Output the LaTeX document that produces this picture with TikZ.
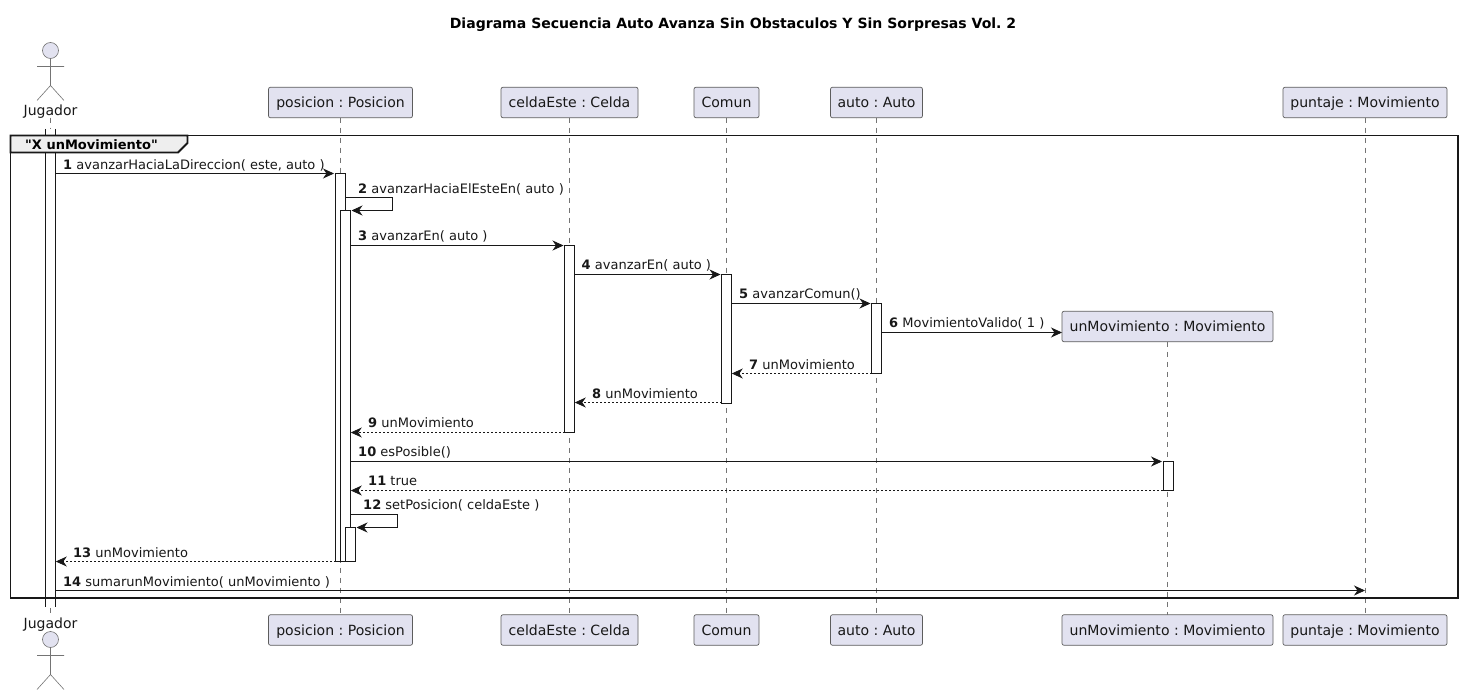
\documentclass[tikz,border=0pt]{standalone}
\usepackage{fontspec}
\setmainfont{DejaVu Sans}[Ligatures=TeXOff]
\usetikzlibrary{arrows.meta,calc}
\definecolor{partfill}{HTML}{E2E2F0}
\definecolor{ink}{HTML}{181818}
\definecolor{tabfill}{HTML}{EEEEEE}
\tikzset{
  part/.style={draw=ink!70,line width=0.7pt,fill=partfill,rounded corners=2pt,inner sep=0pt,outer sep=0pt,font=\fontsize{14.05}{16}\selectfont,text=ink,minimum height=30.5pt,text height=12pt,text depth=2pt},
  actlabel/.style={inner sep=0pt,font=\fontsize{14}{16}\selectfont,text=ink,anchor=base},
  life/.style={draw=ink!60,line width=0.6pt,dash pattern=on 5pt off 5pt},
  actbar/.style={draw=ink,fill=white,line width=0.8pt,inner sep=0pt,outer sep=0pt,minimum width=10pt},
  msg/.style={draw=ink,line width=0.8pt,-{Stealth[length=11pt,width=10pt,inset=3.5pt]}},
  ret/.style={msg,dash pattern=on 2pt off 2pt},
  mlabel/.style={inner sep=0pt,anchor=base west,font=\fontsize{13}{15}\selectfont,text=ink},
  actor/.style={draw=ink!60,line width=0.6pt},
}
\newcommand{\activation}[4]{% name, x, top, bottom
  \pgfmathsetmacro{\hh}{#4-#3}\pgfmathsetmacro{\mm}{(#3+#4)/2}
  \node[actbar,minimum height=\hh pt] (#1) at (#2,\mm) {};}
\newcommand{\stick}[2]{% x, top of head
  \draw[actor,fill=partfill] (#1,#2+8) circle[radius=8pt];
  \draw[actor] (#1,#2+16) -- (#1,#2+43) (#1-13.5,#2+24) -- (#1+13.5,#2+24) (#1-13.5,#2+58) -- (#1,#2+43) -- (#1+13.5,#2+58);}
\begin{document}
\frenchspacing
\begin{tikzpicture}[x=1pt,y=-1pt]
\useasboundingbox (0,0) rectangle (1462,695);
\fill[white] (0,0) rectangle (1462,695);
\node[inner sep=0pt,font=\bfseries\fontsize{14.05}{16}\selectfont,text=black,anchor=base] (title) at (733,28.5) {Diagrama Secuencia Auto Avanza Sin Obstaculos Y Sin Sorpresas Vol. 2};
% headers
\node[actlabel] (jt) at (50.5,115.5) {Jugador};
\node[actlabel] (jb) at (50.5,628.5) {Jugador};
\stick{50.5}{42.5}
\stick{50.5}{631.5}
\node[part,minimum width=144pt] (pt) at (340.5,102.5) {posicion : Posicion};
\node[part,minimum width=137pt] (ct) at (569.5,102.5) {celdaEste : Celda};
\node[part,minimum width=65pt] (ot) at (726.5,102.5) {Comun};
\node[part,minimum width=92pt] (at) at (876.5,102.5) {auto : Auto};
\node[part,minimum width=211pt] (ut) at (1167.5,326.5) {unMovimiento : Movimiento};
\node[part,minimum width=164pt] (st) at (1365,102.5) {puntaje : Movimiento};
\node[part,minimum width=144pt] (pb) at (340.5,630) {posicion : Posicion};
\node[part,minimum width=137pt] (cb) at (569.5,630) {celdaEste : Celda};
\node[part,minimum width=65pt] (ob) at (726.5,630) {Comun};
\node[part,minimum width=92pt] (ab) at (876.5,630) {auto : Auto};
\node[part,minimum width=211pt] (ub) at (1167.5,630) {unMovimiento : Movimiento};
\node[part,minimum width=164pt] (sb) at (1365,630) {puntaje : Movimiento};
% lifelines
\coordinate (jl1) at (50.5,118); \coordinate (jl2) at (50.5,613);
\draw[life] (jl1) -- (jl2);
\foreach \a/\b in {pt/pb,ct/cb,ot/ob,at/ab,ut/ub,st/sb} \draw[life] (\a.south) -- (\b.north);
% activations
\activation{bj}{50.5}{129}{606.5}
\fill[white] (bj.north west) rectangle (bj.south east);
\draw[white,line width=1pt] (bj.north west) -- (bj.north east) (bj.south west) -- (bj.south east);
\draw[life] (50.5,118) -- (50.5,129);
\draw[ink,line width=0.8pt] (bj.north west) -- (bj.south west) (bj.north east) -- (bj.south east);
\activation{bp1}{340.5}{173.5}{561.5}
\activation{bp2}{345.5}{210.5}{561.5}
\activation{bp3}{350.5}{527.5}{561.5}
\activation{bc}{569.5}{245.5}{432.5}
\activation{bo}{726.5}{274.5}{403}
\activation{ba}{876.5}{303.5}{373.5}
\activation{bu}{1168}{461.5}{490.5}
% group
\draw[draw=ink,line width=1.8pt] (10.5,135.5) rectangle (1458,598);
\draw[draw=ink,line width=1.8pt,fill=tabfill] (10.5,135.5) -- (187.5,135.5) -- (187.5,143) -- (178,152.5) -- (10.5,152.5) -- cycle;
\node[inner sep=0pt,anchor=base west,font=\bfseries\fontsize{13}{15}\selectfont,text=black] (gl) at (25,149.5) {"X unMovimiento"};
% message end points
\coordinate (m1a) at (bj.east |- 0,173.5); \coordinate (m1b) at (334,173.5);
\coordinate (m2a) at (bp1.east |- 0,197.5); \coordinate (m2c) at (392.5,197.5); \coordinate (m2d) at (392.5,210.5); \coordinate (m2b) at (351.5,210.5);
\coordinate (m3a) at (bp2.east |- 0,245.5); \coordinate (m3b) at (563.5,245.5);
\coordinate (m4a) at (bc.east |- 0,274.5); \coordinate (m4b) at (720.5,274.5);
\coordinate (m5a) at (bo.east |- 0,303.5); \coordinate (m5b) at (870.5,303.5);
\coordinate (m6a) at (ba.east |- 0,332.5); \coordinate (m6b) at (ut.west |- 0,332.5);
\coordinate (m7a) at (ba.west |- 0,373.5); \coordinate (m7b) at (731.8,373.5);
\coordinate (m8a) at (bo.west |- 0,402.5); \coordinate (m8b) at (574.8,402.5);
\coordinate (m9a) at (bc.west |- 0,432.5); \coordinate (m9b) at (350.8,432.5);
\coordinate (m10a) at (bp2.east |- 0,461.5); \coordinate (m10b) at (1162,461.5);
\coordinate (m11a) at (bu.west |- 0,490.5); \coordinate (m11b) at (350.8,490.5);
\coordinate (m12a) at (bp2.east |- 0,514.5); \coordinate (m12c) at (397.5,514.5); \coordinate (m12d) at (397.5,527.5); \coordinate (m12b) at (356.5,527.5);
\coordinate (m13a) at (bp1.west |- 0,561.5); \coordinate (m13b) at (55.8,561.5);
\coordinate (m14a) at (bj.east |- 0,590.5); \coordinate (m14b) at (st.south |- 0,590.5);
\draw[msg] (m1a) -- (m1b);
\draw[msg] (m2a) -- (m2c) -- (m2d) -- (m2b);
\draw[msg] (m3a) -- (m3b);
\draw[msg] (m4a) -- (m4b);
\draw[msg] (m5a) -- (m5b);
\draw[msg] (m6a) -- (m6b);
\draw[ret] (m7a) -- (m7b);
\draw[ret] (m8a) -- (m8b);
\draw[ret] (m9a) -- (m9b);
\draw[msg] (m10a) -- (m10b);
\draw[ret] (m11a) -- (m11b);
\draw[msg] (m12a) -- (m12c) -- (m12d) -- (m12b);
\draw[ret] (m13a) -- (m13b);
\draw[msg] (m14a) -- (m14b);
% labels
\node[mlabel] (l1) at (63,169.5) {\textbf{1} avanzarHaciaLaDireccion( este, auto )};
\node[mlabel] (l2) at (358,193.5) {\textbf{2} avanzarHaciaElEsteEn( auto )};
\node[mlabel] (l3) at (358,240.5) {\textbf{3} avanzarEn( auto )};
\node[mlabel] (l4) at (581.5,269.5) {\textbf{4} avanzarEn( auto )};
\node[mlabel] (l5) at (739,298.5) {\textbf{5} avanzarComun()};
\node[mlabel] (l6) at (889,327.5) {\textbf{6} MovimientoValido( 1 )};
\node[mlabel] (l7) at (749,369) {\textbf{7} unMovimiento};
\node[mlabel] (l8) at (592,398.5) {\textbf{8} unMovimiento};
\node[mlabel] (l9) at (368,427.5) {\textbf{9} unMovimiento};
\node[mlabel] (l10) at (358,456.5) {\textbf{10} esPosible()};
\node[mlabel] (l11) at (368,485.5) {\textbf{11} true};
\node[mlabel] (l12) at (363,509.5) {\textbf{12} setPosicion( celdaEste )};
\node[mlabel] (l13) at (73,557) {\textbf{13} unMovimiento};
\node[mlabel] (l14) at (63,586) {\textbf{14} sumarunMovimiento( unMovimiento )};
\end{tikzpicture}
\end{document}
